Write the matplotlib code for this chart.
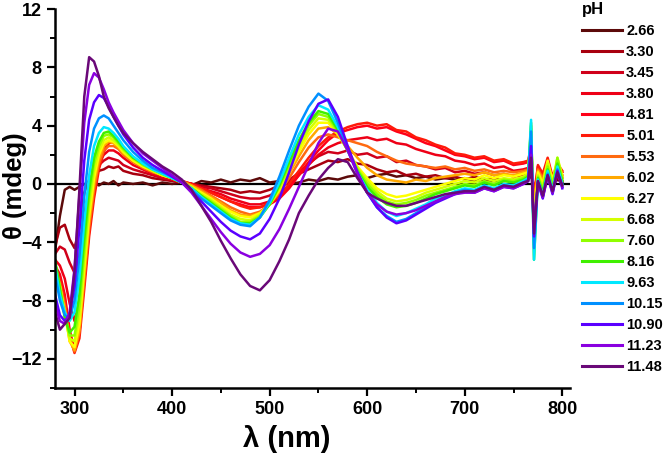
import numpy as np
import matplotlib
matplotlib.use("Agg")
import matplotlib.pyplot as plt
from matplotlib.ticker import MultipleLocator

plt.rcParams['font.family'] = ['Liberation Sans', 'DejaVu Sans']
plt.rcParams['font.weight'] = 'bold'

# wavelength grid (nm)
wl = [280, 285, 290, 295, 300, 305, 310, 315, 320, 325, 330, 335, 340, 345, 350,
      360, 370, 380, 390, 400, 410, 420, 430, 440, 450, 460, 470, 480, 490, 500,
      510, 520, 530, 540, 550, 560, 570, 580, 590, 600, 610, 620, 630, 640, 650,
      660, 670, 680, 690, 700, 710, 720, 730, 740, 750, 760,
      765, 768, 771, 775, 780, 785, 790, 795, 800]

ph_labels = ['2.66', '3.30', '3.45', '3.80', '4.81', '5.01', '5.53', '6.02', '6.27',
             '6.68', '7.60', '8.16', '9.63', '10.15', '10.90', '11.23', '11.48']

colors = ['#5c0a0a', '#a8000f', '#d0001a', '#ee0016', '#ff0018', '#ff1a0a', '#ff6a10',
          '#ffa800', '#ffff00', '#d4ff00', '#90ff00', '#40f000', '#00e8ff', '#0090ff',
          '#5a00ff', '#8a00e0', '#6a0878']

cd_266 = [-4.6, -2.2, -0.4, -0.2, -0.4, -0.2, 0.0, -0.1, 0.1, -0.1, 0.1, 0.0, 0.2, -0.1, 0.1,
          0.0, 0.1, -0.1, 0.1, 0.0, 0.1, -0.1, 0.2, 0.1, 0.3, 0.1, 0.3, 0.2, 0.4, 0.1,
          0.2, 0.0, 0.1, 0.3, 0.2, 0.4, 0.3, 0.5, 0.6, 0.4, 0.6, 0.7, 0.5, 0.6, 0.4,
          0.5, 0.3, 0.4, 0.3, 0.4, 0.2, 0.3, 0.2, 0.3, 0.1, 0.2,
          0.3, 0.6, -0.2, 0.3, 0.0, 0.4, -0.1, 0.3, 0.1]
cd_330 = [-4.3, -3.0, -2.8, -3.8, -4.4, -3.0, -0.6, 0.3, 0.6, 0.9, 1.0, 1.2, 1.1, 1.2, 0.9,
          0.7, 0.6, 0.4, 0.3, 0.2, 0.1, 0.0, -0.1, -0.2, -0.3, -0.4, -0.6, -0.5, -0.6, -0.4,
          -0.1, 0.3, 0.7, 1.0, 1.3, 1.6, 1.5, 1.7, 1.4, 1.3, 1.0, 0.8, 0.9, 0.6, 0.7,
          0.5, 0.6, 0.4, 0.5, 0.3, 0.5, 0.3, 0.4, 0.2, 0.3, 0.2,
          0.4, 1.0, -0.6, 0.4, 0.1, 0.6, 0.0, 0.4, 0.2]
cd_345 = [-4.8, -4.3, -4.5, -5.4, -6.1, -5.0, -2.2, -0.2, 0.8, 1.3, 1.6, 1.8, 1.7, 1.6, 1.3,
          1.0, 0.8, 0.6, 0.4, 0.3, 0.1, 0.0, -0.2, -0.3, -0.5, -0.7, -0.9, -1.0, -1.0, -0.8,
          -0.4, 0.2, 0.8, 1.4, 1.9, 2.2, 2.1, 2.3, 2.0, 2.1, 1.8, 1.9, 1.5, 1.6, 1.3,
          1.2, 1.0, 1.1, 0.8, 0.9, 0.7, 0.8, 0.6, 0.7, 0.5, 0.6,
          0.7, 1.6, -0.9, 0.6, 0.2, 0.9, 0.1, 0.7, 0.4]
cd_380 = [-5.2, -5.6, -6.5, -8.2, -9.4, -8.0, -4.5, -1.5, 0.4, 1.4, 2.0, 2.3, 2.3, 2.1, 1.8,
          1.3, 1.0, 0.7, 0.5, 0.3, 0.1, 0.0, -0.3, -0.5, -0.7, -1.0, -1.2, -1.4, -1.4, -1.2,
          -0.8, -0.1, 0.6, 1.3, 2.0, 2.5, 2.8, 3.0, 3.1, 3.2, 3.0, 3.1, 2.8, 2.7, 2.4,
          2.2, 2.0, 1.9, 1.6, 1.5, 1.3, 1.4, 1.1, 1.2, 0.9, 1.0,
          1.1, 2.0, -1.2, 0.9, 0.4, 1.3, 0.2, 1.0, 0.6]
cd_481 = [-5.6, -6.2, -7.6, -10.0, -11.4, -10.2, -6.6, -3.2, -0.6, 1.3, 2.3, 2.8, 2.9, 2.6, 2.2,
          1.6, 1.2, 0.9, 0.6, 0.4, 0.2, 0.0, -0.3, -0.6, -0.9, -1.2, -1.4, -1.6, -1.6, -1.4,
          -1.0, -0.3, 0.6, 1.5, 2.3, 3.0, 3.5, 3.7, 3.9, 4.0, 3.8, 3.9, 3.6, 3.4, 3.1,
          2.8, 2.6, 2.3, 2.0, 1.9, 1.7, 1.8, 1.5, 1.6, 1.3, 1.4,
          1.5, 2.4, -1.0, 1.2, 0.6, 1.6, 0.4, 1.3, 0.8]
cd_501 = [-5.8, -6.5, -8.0, -10.4, -11.6, -10.6, -7.2, -3.6, -1.0, 1.0, 2.2, 2.8, 2.9, 2.7, 2.3,
          1.7, 1.3, 0.9, 0.6, 0.4, 0.2, 0.0, -0.3, -0.6, -0.9, -1.2, -1.5, -1.7, -1.6, -1.3,
          -0.8, 0.0, 0.9, 1.8, 2.6, 3.2, 3.6, 3.9, 4.1, 4.2, 4.0, 4.1, 3.7, 3.6, 3.2,
          3.0, 2.7, 2.5, 2.1, 2.0, 1.8, 1.9, 1.6, 1.7, 1.4, 1.5,
          1.6, 2.6, -1.2, 1.3, 0.7, 1.8, 0.5, 1.4, 0.9]
cd_553 = [-6.0, -6.8, -8.3, -10.6, -11.5, -10.2, -6.6, -3.0, -0.4, 1.4, 2.3, 2.6, 2.6, 2.4, 2.0,
          1.5, 1.1, 0.8, 0.6, 0.4, 0.2, -0.1, -0.4, -0.8, -1.2, -1.6, -1.9, -2.1, -1.9, -1.4,
          -0.6, 0.4, 1.5, 2.5, 3.2, 3.4, 3.2, 3.0, 2.8, 2.6, 2.2, 1.9, 1.6, 1.4, 1.3,
          1.2, 1.1, 1.2, 1.0, 1.1, 0.9, 1.0, 0.8, 0.9, 0.8, 0.9,
          1.0, 2.6, -1.6, 1.0, 0.4, 1.5, 0.3, 1.2, 0.6]
cd_602 = [-6.2, -7.0, -8.6, -10.8, -11.4, -10.0, -6.2, -2.6, 0.0, 1.7, 2.6, 2.9, 2.8, 2.5, 2.1,
          1.6, 1.2, 0.9, 0.6, 0.4, 0.2, -0.1, -0.5, -0.9, -1.3, -1.8, -2.1, -2.2, -2.0, -1.4,
          -0.5, 0.7, 1.9, 3.0, 3.8, 3.9, 3.4, 2.6, 1.8, 1.1, 0.6, 0.3, 0.2, 0.1, 0.3,
          0.2, 0.4, 0.5, 0.6, 0.7, 0.6, 0.8, 0.6, 0.7, 0.6, 0.8,
          0.9, 3.0, -2.2, 0.9, 0.2, 1.4, 0.1, 1.1, 0.5]
cd_627 = [-6.0, -7.0, -8.8, -10.8, -11.2, -9.6, -5.8, -2.2, 0.4, 2.0, 2.8, 3.0, 2.9, 2.6, 2.2,
          1.6, 1.2, 0.9, 0.6, 0.4, 0.1, -0.2, -0.6, -1.0, -1.5, -1.9, -2.2, -2.3, -2.0, -1.4,
          -0.4, 0.9, 2.2, 3.4, 4.2, 4.2, 3.4, 2.3, 1.2, 0.4, -0.3, -0.7, -0.9, -0.8, -0.6,
          -0.4, -0.2, 0.0, 0.2, 0.4, 0.3, 0.6, 0.4, 0.6, 0.5, 0.7,
          0.8, 3.4, -2.8, 0.8, 0.0, 1.6, 0.2, 1.8, 0.6]
cd_668 = [-5.8, -7.2, -9.0, -10.6, -10.8, -9.0, -5.2, -1.6, 0.9, 2.3, 3.0, 3.2, 3.0, 2.7, 2.3,
          1.7, 1.3, 0.9, 0.6, 0.4, 0.1, -0.2, -0.7, -1.1, -1.6, -2.1, -2.4, -2.5, -2.1, -1.4,
          -0.3, 1.1, 2.5, 3.7, 4.5, 4.4, 3.5, 2.3, 1.1, 0.2, -0.5, -1.0, -1.2, -1.1, -0.9,
          -0.6, -0.4, -0.2, 0.0, 0.2, 0.1, 0.4, 0.2, 0.4, 0.3, 0.5,
          0.7, 3.8, -3.4, 0.6, -0.2, 1.4, 0.0, 1.6, 0.4]
cd_760 = [-5.4, -7.0, -9.0, -10.4, -10.4, -8.4, -4.6, -1.0, 1.4, 2.6, 3.3, 3.4, 3.2, 2.8, 2.4,
          1.8, 1.3, 1.0, 0.7, 0.4, 0.1, -0.3, -0.8, -1.2, -1.7, -2.2, -2.6, -2.6, -2.2, -1.4,
          -0.2, 1.3, 2.8, 4.0, 4.8, 4.6, 3.6, 2.3, 1.0, 0.0, -0.7, -1.2, -1.4, -1.3, -1.1,
          -0.8, -0.6, -0.4, -0.2, 0.0, -0.1, 0.2, 0.0, 0.3, 0.2, 0.4,
          0.6, 4.0, -4.2, 0.5, -0.4, 1.2, -0.2, 1.8, 0.3]
cd_816 = [-5.2, -7.2, -9.2, -10.2, -9.8, -7.6, -3.8, -0.4, 1.8, 2.9, 3.5, 3.6, 3.3, 2.9, 2.5,
          1.8, 1.4, 1.0, 0.7, 0.4, 0.1, -0.3, -0.8, -1.3, -1.8, -2.3, -2.7, -2.7, -2.3, -1.4,
          -0.1, 1.5, 3.0, 4.2, 5.0, 4.8, 3.7, 2.3, 0.9, -0.2, -0.9, -1.4, -1.6, -1.5, -1.3,
          -1.0, -0.7, -0.5, -0.3, -0.1, -0.2, 0.1, -0.1, 0.2, 0.1, 0.3,
          0.5, 4.2, -5.2, 0.4, -0.6, 1.0, -0.4, 1.4, 0.2]
cd_963 = [-5.6, -7.6, -8.8, -9.4, -8.8, -6.4, -2.6, 0.6, 2.6, 3.5, 3.9, 3.8, 3.5, 3.1, 2.6,
          1.9, 1.4, 1.0, 0.7, 0.4, 0.1, -0.3, -0.9, -1.4, -1.9, -2.4, -2.7, -2.8, -2.3, -1.3,
          0.1, 1.8, 3.4, 4.6, 5.4, 5.1, 3.9, 2.3, 0.8, -0.4, -1.3, -1.9, -2.2, -2.0, -1.7,
          -1.4, -1.0, -0.8, -0.5, -0.3, -0.4, -0.1, -0.3, 0.0, -0.1, 0.2,
          0.4, 4.4, -5.2, 0.3, -0.8, 0.9, -0.5, 1.2, 0.0]
cd_1015 = [-6.2, -8.0, -9.0, -9.2, -8.0, -5.0, -0.8, 2.2, 3.8, 4.5, 4.7, 4.5, 4.0, 3.5, 3.0,
           2.2, 1.6, 1.1, 0.8, 0.5, 0.1, -0.4, -1.0, -1.5, -2.0, -2.5, -2.8, -2.9, -2.3, -1.1,
           0.5, 2.3, 4.0, 5.3, 6.2, 5.7, 4.2, 2.4, 0.7, -0.6, -1.6, -2.2, -2.6, -2.4, -2.0,
           -1.6, -1.2, -0.9, -0.6, -0.4, -0.5, -0.2, -0.4, -0.1, -0.2, 0.1,
           0.3, 3.6, -4.4, 0.2, -0.9, 0.7, -0.6, 1.0, -0.2]
cd_1090 = [-7.6, -9.0, -9.4, -9.0, -7.0, -3.0, 1.6, 4.4, 5.6, 6.1, 5.9, 5.3, 4.6, 4.0, 3.4,
           2.5, 1.8, 1.3, 0.9, 0.5, 0.1, -0.5, -1.2, -1.9, -2.6, -3.2, -3.6, -3.8, -3.4, -2.4,
           -1.0, 0.8, 2.7, 4.3, 5.5, 5.8, 4.6, 2.6, 0.8, -0.6, -1.6, -2.3, -2.7, -2.5, -2.1,
           -1.7, -1.3, -1.0, -0.7, -0.5, -0.6, -0.3, -0.5, -0.2, -0.3, 0.0,
           0.2, 2.6, -3.6, 0.1, -1.0, 0.6, -0.7, 0.9, -0.3]
cd_1123 = [-8.2, -9.4, -9.6, -8.8, -5.8, -0.8, 4.2, 6.8, 7.6, 7.3, 6.5, 5.6, 4.9, 4.3, 3.7,
           2.8, 2.1, 1.6, 1.1, 0.6, 0.1, -0.6, -1.5, -2.4, -3.3, -4.1, -4.7, -5.0, -4.8, -4.2,
           -3.1, -1.7, -0.2, 1.3, 2.8, 3.8, 3.6, 2.3, 0.7, -0.6, -1.4, -1.9, -2.1, -2.0, -1.8,
           -1.5, -1.2, -0.9, -0.7, -0.6, -0.6, -0.3, -0.5, -0.2, -0.3, 0.0,
           0.2, 2.0, -3.0, 0.1, -0.9, 0.5, -0.6, 0.8, -0.2]
cd_1148 = [-8.8, -10.0, -9.6, -9.2, -6.0, -0.4, 6.0, 8.7, 8.4, 7.4, 6.0, 5.2, 4.6, 4.0, 3.5,
           2.8, 2.2, 1.7, 1.2, 0.8, 0.3, -0.4, -1.5, -2.6, -3.9, -5.1, -6.2, -7.0, -7.3, -6.6,
           -5.3, -3.8, -2.0, -0.8, 0.3, 1.1, 1.7, 1.5, 0.4, -0.6, -1.0, -1.3, -1.5, -1.5, -1.3,
           -1.1, -0.9, -0.7, -0.6, -0.5, -0.5, -0.2, -0.4, -0.1, -0.2, 0.1,
           0.2, 1.8, -3.4, 0.2, -0.8, 0.6, -0.5, 0.8, -0.1]

spectra = [cd_266, cd_330, cd_345, cd_380, cd_481, cd_501, cd_553, cd_602, cd_627,
           cd_668, cd_760, cd_816, cd_963, cd_1015, cd_1090, cd_1123, cd_1148]

fig = plt.figure(figsize=(6.66, 4.53), dpi=100)
ax = fig.add_axes([0.0826, 0.1435, 0.7734, 0.8365])

ax.axhline(0, color='black', lw=1.6, zorder=1)
for y, c, lab in zip(spectra, colors, ph_labels):
    ax.plot(wl, y, color=c, lw=1.8, label=lab, zorder=2)

ax.set_xlim(280, 808)
ax.set_ylim(-14, 12)
ax.xaxis.set_major_locator(MultipleLocator(100))
ax.xaxis.set_minor_locator(MultipleLocator(50))
ax.yaxis.set_major_locator(MultipleLocator(4))
ax.yaxis.set_minor_locator(MultipleLocator(2))
ax.spines['top'].set_visible(False)
ax.spines['right'].set_visible(False)
for s in ['left', 'bottom']:
    ax.spines[s].set_linewidth(1.8)
ax.tick_params(which='major', direction='out', length=6, width=1.6, labelsize=13)
ax.tick_params(which='minor', direction='out', length=3.5, width=1.4)

ax.set_xlabel('λ (nm)', fontsize=21, fontweight='bold')
ax.set_ylabel('θ (mdeg)', fontsize=18.5, fontweight='bold')
ax.xaxis.set_label_coords(0.449, -0.097)
ax.yaxis.set_label_coords(-0.055, 0.533)

leg = ax.legend(loc='upper left', bbox_to_anchor=(1.004, 1.046), frameon=False,
                title='pH', alignment='left', fontsize=10.5, handlelength=2.7,
                handletextpad=0.3, labelspacing=0.48, borderaxespad=0.3,
                title_fontproperties={'weight': 'bold', 'size': 12})
for line in leg.get_lines():
    line.set_linewidth(2.2)

fig.savefig('out.png', dpi=100)
